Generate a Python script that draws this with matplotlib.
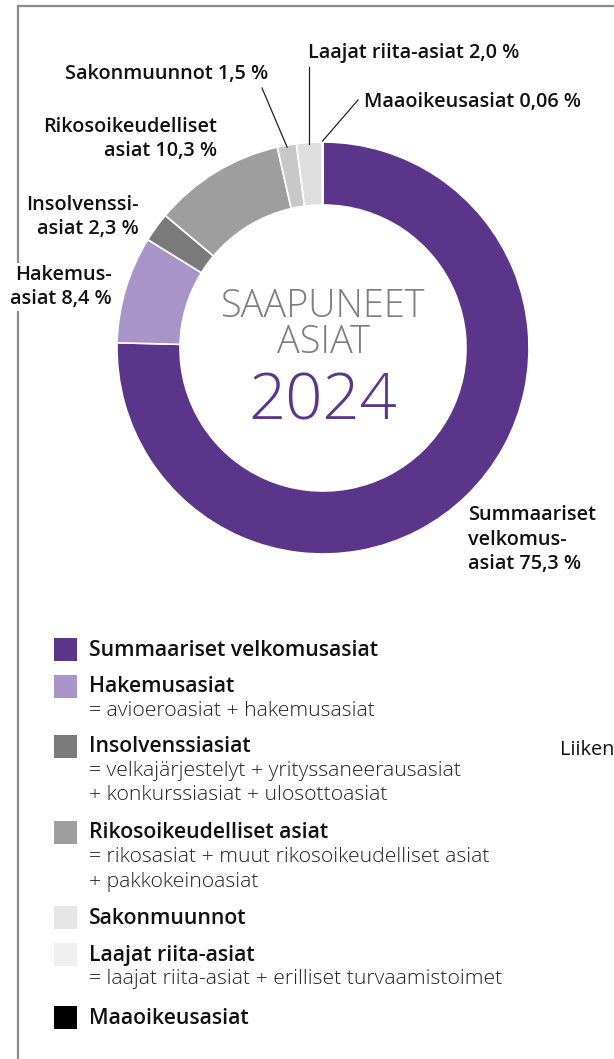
import numpy as np
import matplotlib
matplotlib.use("Agg")
import matplotlib.pyplot as plt
from matplotlib.patches import Rectangle
from matplotlib.lines import Line2D

# ---------------- data ----------------
categories = ["Summaariset velkomusasiat", "Hakemusasiat", "Insolvenssiasiat",
              "Rikosoikeudelliset asiat", "Sakonmuunnot", "Laajat riita-asiat",
              "Maaoikeusasiat"]
shares = [75.3, 8.4, 2.3, 10.3, 1.5, 2.0, 0.06]
pie_colors = ["#5b358a", "#a894c8", "#7a7a7a", "#9e9e9e", "#c8c8c8", "#dedede", "#000000"]
legend_colors = ["#5b358a", "#a894c8", "#7a7a7a", "#9e9e9e", "#e6e6e6", "#f0f0f0", "#000000"]
slice_labels = ["Summaariset\nvelkomus-\nasiat 75,3 %", "Hakemus-\nasiat 8,4 %",
                "Insolvenssi-\nasiat 2,3 %", "Rikosoikeudelliset\nasiat 10,3 %",
                "Sakonmuunnot 1,5 %", "Laajat riita-asiat 2,0 %",
                "Maaoikeusasiat 0,06 %"]
legend_notes = [[], ["= avioeroasiat + hakemusasiat"],
                ["= velkajärjestelyt + yrityssaneerausasiat", "+ konkurssiasiat + ulosottoasiat"],
                ["= rikosasiat + muut rikosoikeudelliset asiat", "+ pakkokeinoasiat"],
                [], ["= laajat riita-asiat + erilliset turvaamistoimet"], []]
center_title = ["SAAPUNEET", "ASIAT"]
center_year = "2024"

W, H = 614, 1059
FONT = ["Open Sans", "DejaVu Sans"]
plt.rcParams['font.family'] = FONT

fig = plt.figure(figsize=(W / 100, H / 100), dpi=100)
ax = fig.add_axes([0, 0, 1, 1])

def Y(y):  # image y (from top) -> axis y (from bottom)
    return H - y

cx, cy, R, ring = 323, 348, 206, 63
wedges, _ = ax.pie(shares, colors=pie_colors, startangle=90, counterclock=False,
                   radius=R, center=(cx, Y(cy)),
                   wedgeprops=dict(width=ring, edgecolor="white", linewidth=1.2))
ax.set_xlim(0, W)
ax.set_ylim(0, H)
ax.set_aspect("equal")
ax.axis("off")

# frame (top and left lines)
ax.add_line(Line2D([18, W], [Y(6), Y(6)], color="#8a8a8a", lw=1.6, zorder=0))
ax.add_line(Line2D([18, 18], [Y(6), 0], color="#8a8a8a", lw=1.6, zorder=0))

# centre text
ax.text(cx, Y(317), center_title[0], ha="center", va="baseline", fontsize=27.3,
        color="#7f7f7f", fontweight="light")
ax.text(cx, Y(353), center_title[1], ha="center", va="baseline", fontsize=27.3,
        color="#7f7f7f", fontweight="light")
ax.text(cx, Y(420), center_year, ha="center", va="baseline", fontsize=47,
        color="#5b358a", fontweight="light")

lab_kw = dict(fontsize=14.3, fontweight="semibold", color="#111111", linespacing=1.3)

def edge_point(i, rr=R):
    before = sum(shares[:i])
    mid = (before + shares[i] / 2) / sum(shares) * 360.0
    a = np.deg2rad(90 - mid)
    return cx + rr * np.cos(a), Y(cy) + rr * np.sin(a)

# slice labels
ax.text(468, Y(540), slice_labels[0], ha="left", va="center", **lab_kw)
ax.text(112, Y(287), slice_labels[1], ha="right", va="center", zorder=5,
        bbox=dict(facecolor="white", edgecolor="none", pad=1), **lab_kw)
ax.text(139, Y(217), slice_labels[2], ha="right", va="center", **lab_kw)
ax.text(217, Y(139), slice_labels[3], ha="right", va="center", **lab_kw)
ax.text(268, Y(74), slice_labels[4], ha="right", va="center", **lab_kw)
ax.text(308, Y(53), slice_labels[5], ha="left", va="center", **lab_kw)
ax.text(364, Y(102), slice_labels[6], ha="left", va="center", **lab_kw)

# leader lines
px, py = edge_point(4, R - 2)
ax.add_line(Line2D([262, px], [Y(88), py], color="#222222", lw=0.9))
px, py = edge_point(5, R - 2)
ax.add_line(Line2D([px, px], [Y(67), py], color="#222222", lw=0.9))
px, py = edge_point(6, R + 1)
ax.add_line(Line2D([358, px], [Y(100), py], color="#222222", lw=0.9))

# legend
rows_y = [649, 686, 746, 832, 917, 954, 1017]
for name, col, notes, y in zip(categories, legend_colors, legend_notes, rows_y):
    ax.add_patch(Rectangle((54, Y(y) - 11.5), 23, 23, facecolor=col, edgecolor="none"))
    ax.text(89, Y(y + 1), name, ha="left", va="center", fontsize=15.3,
            fontweight="semibold", color="#111111")
    for k, note in enumerate(notes):
        ax.text(89, Y(y + 25 + 24.5 * k), note, ha="left", va="center", fontsize=15.2,
                fontweight="light", color="#222222")

ax.text(560, Y(750), "Liiken", ha="left", va="center", fontsize=14.3, color="#111111")

fig.savefig("out.png", dpi=100)
